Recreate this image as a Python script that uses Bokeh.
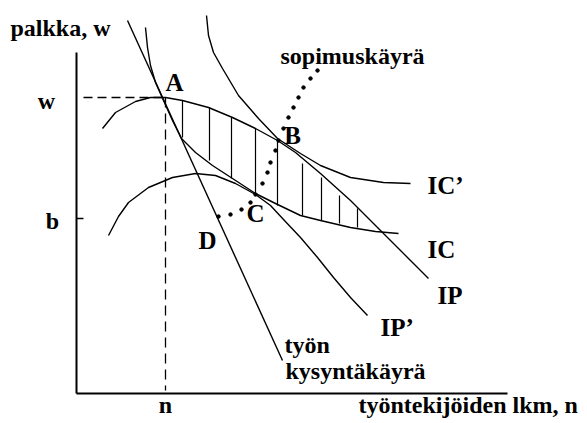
from bokeh.plotting import figure
from bokeh.models import Range1d
from bokeh.core.properties import value
from bokeh.embed import file_html
from bokeh.resources import INLINE

# ---------------- data (n = employment, w = wage; diagram units) ----------------
axis_n_max = 431
axis_w_max = 341

w_level = 296      # wage w (point A)
b_level = 175      # outside option b
n_level = 89       # employment n (point A)

# labour demand curve (tyon kysyntakayra)
demand_n = [51, 206]
demand_w = [373, 33]

# union indifference curve IC (through A and C)
ic_n = [69, 71, 74, 79, 87, 96, 105, 119, 136, 156, 179, 199, 224, 244, 274, 299, 322]
ic_w = [366, 346, 328, 311, 293, 273, 255, 241, 228, 215, 200, 190, 178, 173, 166, 162, 160]

# higher union indifference curve IC' (through B)
ic2_n = [130, 132, 137, 146, 162, 182, 201, 224, 244, 274, 307, 334]
ic2_w = [378, 358, 341, 325, 298, 275, 255, 240, 228, 216, 211, 210]

# isoprofit curve IP (peak at A, through B)
ip_n = [26, 39, 59, 74, 89, 106, 132, 156, 179, 201, 219, 244, 274, 307, 334, 352]
ip_w = [265, 281, 292, 296, 296, 293, 286, 276, 265, 253, 241, 220, 193, 160, 133, 115]

# isoprofit curve IP' (through C)
ip2_n = [32, 42, 52, 72, 96, 119, 139, 159, 179, 194, 207, 224, 241, 257, 274, 291]
ip2_w = [158, 177, 191, 206, 216, 220, 218, 210, 199, 188, 174, 156, 136, 116, 96, 78]

# contract curve (sopimuskayra), dotted
cc_n = [142, 154, 165, 174, 179, 186, 191, 194, 199, 202, 207, 212, 217, 222, 227, 234, 241]
cc_w = [177, 179, 184, 191, 199, 210, 221, 231, 243, 253, 265, 276, 286, 296, 306, 315, 323]

# hatching of the bargaining set between IP and IC
hatch_n = [106, 133, 155, 179, 201, 226, 245, 263, 281]
hatch_top = [293, 286, 276, 265, 253, 230, 216, 198, 185]
hatch_bot = [256, 233, 215, 200, 188, 178, 173, 170, 166]

# labels
point_labels = ["A", "B", "C", "D"]
point_n = [98, 216, 179, 131]
point_w = [311, 258, 180, 153]

curve_labels = ["IC\u2019", "IC", "IP", "IP\u2019"]
curve_n = [351, 351, 361, 304]
curve_w = [208, 144, 98, 66]

text_labels = ["palkka, w", "sopimusk\u00e4yr\u00e4", "ty\u00f6n", "kysynt\u00e4k\u00e4yr\u00e4",
               "ty\u00f6ntekij\u00f6iden lkm, n"]
text_n = [-66, 204, 208, 209, 282]
text_w = [366, 338, 49, 23, -11]

tick_labels = ["w", "b"]
tick_n = [-30, -24]
tick_w = [293, 173]
n_label_w = -11

# ---------------- figure ----------------
FONT = value("Liberation Serif")

p = figure(width=585, height=419,
           x_range=Range1d(-76, 509), y_range=Range1d(-26, 393),
           output_backend="svg", toolbar_location=None,
           x_axis_location=None, y_axis_location=None, min_border=0)
p.grid.visible = False
p.outline_line_color = None
p.background_fill_color = "white"
p.border_fill_color = "white"

# axes
p.line([0, 0], [0, axis_w_max], line_color="black", line_width=2)
p.line([0, axis_n_max], [0, 0], line_color="black", line_width=2)
p.segment(x0=[0], y0=[b_level], x1=[7], y1=[b_level], line_color="black", line_width=1.3)

# dashed guides
p.line([7, n_level], [w_level, w_level], line_color="black", line_width=1.3, line_dash="9 5")
p.line([n_level, n_level], [w_level, 3], line_color="black", line_width=1.3, line_dash="10 6")

# hatching
p.segment(x0=hatch_n, y0=hatch_bot, x1=hatch_n, y1=hatch_top, line_color="black", line_width=1.2)

# curves
for xs, ys in [(demand_n, demand_w), (ic_n, ic_w), (ic2_n, ic2_w), (ip_n, ip_w), (ip2_n, ip2_w)]:
    p.line(xs, ys, line_color="black", line_width=1.4, line_join="round")

# contract curve
p.scatter(cc_n, cc_w, size=3.5, color="black")

# texts
p.text(x=point_n, y=point_w, text=point_labels, text_font=FONT, text_font_style="bold",
       text_font_size="25px", text_align="center", text_baseline="alphabetic", text_color="black")
p.text(x=curve_n, y=curve_w, text=curve_labels, text_font=FONT, text_font_style="bold",
       text_font_size="25px", text_align="left", text_baseline="alphabetic", text_color="black")
p.text(x=text_n, y=text_w, text=text_labels, text_font=FONT, text_font_style="bold",
       text_font_size="24px", text_align="left", text_baseline="alphabetic", text_color="black")
p.text(x=tick_n, y=tick_w, text=tick_labels, text_font=FONT, text_font_style="bold",
       text_font_size="24px", text_align="center", text_baseline="alphabetic", text_color="black")
p.text(x=[n_level], y=[n_label_w], text=["n"], text_font=FONT, text_font_style="bold",
       text_font_size="24px", text_align="center", text_baseline="alphabetic", text_color="black")

open("out.html", "w").write(file_html(p, INLINE))
